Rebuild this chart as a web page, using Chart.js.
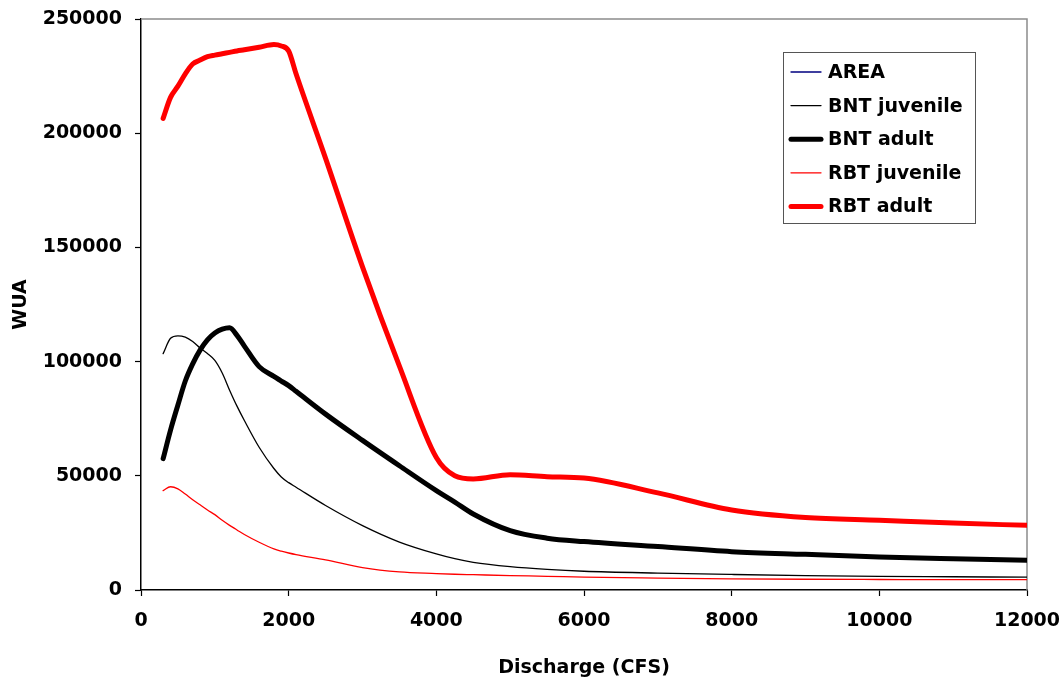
<!DOCTYPE html>
<html>
<head>
<meta charset="utf-8">
<script src="https://cdn.jsdelivr.net/npm/chart.js@4/dist/chart.umd.min.js"></script>
<style>
  html, body { margin: 0; padding: 0; background: #fff; }
  #wrap { width: 1063px; height: 683px; }
</style>
</head>
<body>
<div id="wrap"><canvas id="wuaChart" width="1063" height="683"></canvas></div>
<script>
// discharge (CFS) sample points shared by all series
const discharge = [300, 400, 500, 600, 700, 800, 900, 1000, 1100, 1200, 1300, 1400, 1600, 1800, 1900, 2000, 2100, 2500, 3000, 3500, 4000, 4250, 4500, 5000, 5500, 6000, 7000, 8000, 9000, 10000, 11000, 12000];

// WUA values
const areaWua = []; // AREA line lies outside the plotted range
const bntJuvenile = [103500, 110200, 111300, 110700, 108800, 106000, 103500, 100500, 95000, 87500, 80500, 74200, 62500, 53200, 49500, 47000, 45000, 37000, 28200, 21000, 15800, 13700, 12100, 10200, 9000, 8200, 7400, 6800, 6300, 6000, 5800, 5600];
const bntAdult = [57500, 70000, 81000, 91500, 99000, 105000, 109500, 112500, 114200, 114800, 111500, 106800, 97800, 93500, 91500, 89500, 87000, 77000, 65500, 54400, 43500, 38500, 33300, 26000, 22700, 21200, 19000, 16800, 15600, 14500, 13700, 13000];
const rbtJuvenile = [43500, 45200, 44300, 42000, 39500, 37300, 35000, 33000, 30500, 28300, 26300, 24300, 20900, 18000, 17000, 16200, 15500, 13200, 9800, 7900, 7200, 6900, 6700, 6300, 6000, 5600, 5200, 4900, 4700, 4600, 4500, 4500];
const rbtAdult = [206500, 215700, 220600, 226000, 230300, 232000, 233500, 234200, 234800, 235400, 236000, 236500, 237600, 238800, 238200, 236000, 226000, 189000, 141500, 98000, 58000, 50000, 48600, 50500, 49600, 49000, 42500, 35000, 31700, 30500, 29300, 28300];

const seriesNames = ['AREA', 'BNT juvenile', 'BNT adult', 'RBT juvenile', 'RBT adult'];
const xTicks = [0, 2000, 4000, 6000, 8000, 10000, 12000];
const yTicks = [0, 50000, 100000, 150000, 200000, 250000];

const FONT = '"DejaVu Sans", "Liberation Sans", Arial, sans-serif';

function pts(vals) {
  return vals.map((v, i) => ({ x: discharge[i], y: v }));
}

function makeSet(label, vals, color, width) {
  return {
    label,
    data: pts(vals),
    borderColor: color,
    backgroundColor: color,
    borderWidth: width,
    pointRadius: 0,
    fill: false,
    cubicInterpolationMode: 'monotone',
    borderCapStyle: 'round',
    borderJoinStyle: 'round'
  };
}

// gray frame on top/right of plot area
const frame = {
  id: 'frame',
  beforeDatasetsDraw(chart) {
    const { ctx, chartArea: a } = chart;
    ctx.save();
    ctx.strokeStyle = '#8c8c8c';
    ctx.lineWidth = 1.5;
    ctx.beginPath();
    ctx.moveTo(a.left, a.top);
    ctx.lineTo(a.right, a.top);
    ctx.lineTo(a.right, a.bottom);
    ctx.stroke();
    ctx.restore();
  }
};

// boxed legend inside the plot, like the original
const boxLegend = {
  id: 'boxLegend',
  afterDraw(chart) {
    const ctx = chart.ctx;
    const left = 783, top = 52, w = 192, h = 171;
    ctx.save();
    ctx.fillStyle = '#fff';
    ctx.fillRect(left, top, w, h);
    ctx.strokeStyle = '#555';
    ctx.lineWidth = 1;
    ctx.strokeRect(left + 0.5, top + 0.5, w, h);
    ctx.font = 'bold 19px ' + FONT;
    ctx.textBaseline = 'middle';
    chart.data.datasets.forEach((ds, i) => {
      const y = 72 + i * 33.6;
      ctx.strokeStyle = ds.borderColor;
      ctx.lineWidth = ds.borderWidth;
      ctx.lineCap = 'round';
      ctx.beginPath();
      ctx.moveTo(791, y);
      ctx.lineTo(821, y);
      ctx.stroke();
      ctx.fillStyle = '#000';
      ctx.fillText(ds.label, 828, y + 1);
    });
    ctx.restore();
  }
};

new Chart(document.getElementById('wuaChart'), {
  type: 'line',
  data: {
    datasets: [
      makeSet(seriesNames[0], areaWua, '#000080', 1.3),
      makeSet(seriesNames[1], bntJuvenile, '#000000', 1.3),
      makeSet(seriesNames[2], bntAdult, '#000000', 5),
      makeSet(seriesNames[3], rbtJuvenile, '#ff0000', 1.3),
      makeSet(seriesNames[4], rbtAdult, '#ff0000', 5)
    ]
  },
  options: {
    responsive: false,
    animation: false,
    devicePixelRatio: 1,
    layout: { padding: { left: 0, top: 19, right: 36, bottom: 0 } },
    plugins: { legend: { display: false }, tooltip: { enabled: false } },
    scales: {
      x: {
        type: 'linear',
        min: 0,
        max: 12000,
        afterBuildTicks: s => { s.ticks = xTicks.map(v => ({ value: v })); },
        afterFit: s => { s.height = 93; s.paddingLeft = 0; s.paddingRight = 0; },
        grid: { drawOnChartArea: false, tickLength: 6, tickColor: '#000', tickWidth: 1.2 },
        border: { color: '#000', width: 1.5 },
        ticks: { color: '#000', padding: 14, maxRotation: 0, font: { family: FONT, weight: 'bold', size: 19 }, callback: v => String(v) },
        title: { display: true, text: 'Discharge (CFS)', color: '#000', padding: { top: 4 }, font: { family: FONT, weight: 'bold', size: 19 } }
      },
      y: {
        min: 0,
        max: 250000,
        afterBuildTicks: s => { s.ticks = yTicks.map(v => ({ value: v })); },
        afterFit: s => { s.width = 141; s.paddingTop = 0; s.paddingBottom = 0; },
        grid: { drawOnChartArea: false, tickLength: 6, tickColor: '#000', tickWidth: 1.2 },
        border: { color: '#000', width: 1.5 },
        ticks: { color: '#000', padding: 13, font: { family: FONT, weight: 'bold', size: 19 }, callback: v => String(v) },
        title: { display: true, text: 'WUA', color: '#000', padding: { top: 10, bottom: 0 }, font: { family: FONT, weight: 'bold', size: 19 } }
      }
    }
  },
  plugins: [frame, boxLegend]
});
</script>
</body>
</html>
